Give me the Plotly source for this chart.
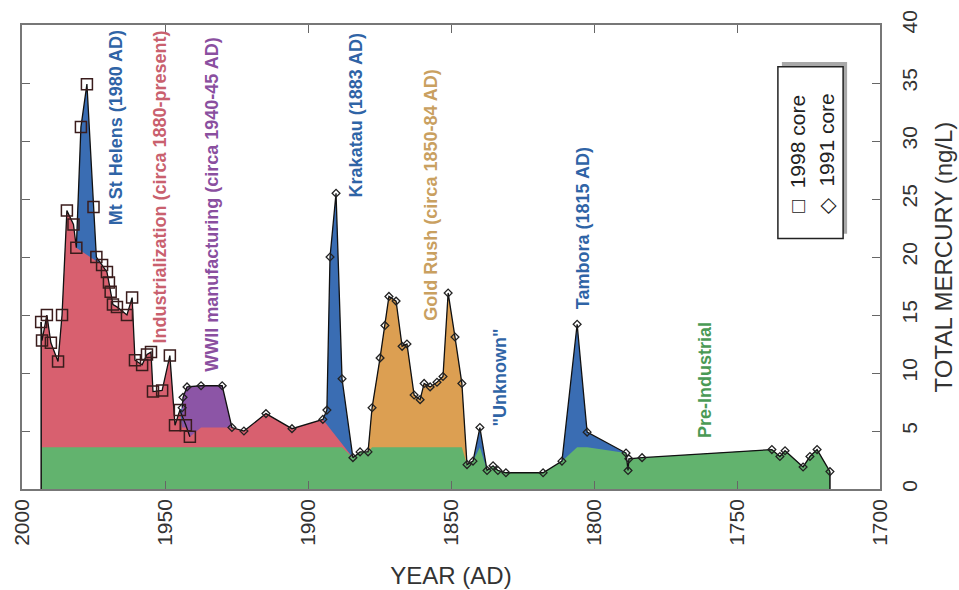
import numpy as np
import plotly.graph_objects as go

# ---------------- data ----------------
core1998_year = [1993.3, 1993.0, 1991.3, 1989.9, 1987.4, 1986.0, 1984.3, 1982.0, 1981.0,
                 1979.4, 1977.3, 1975.0, 1974.0, 1972.0, 1970.3, 1969.6, 1969.0, 1968.2,
                 1966.8, 1963.3, 1961.5, 1960.5, 1958.0, 1956.3, 1954.9, 1954.2, 1951.0,
                 1948.3, 1946.5, 1944.8, 1942.7, 1941.3]
core1998_hg = [14.4, 12.8, 15.0, 12.6, 11.0, 15.0, 24.0, 22.8, 20.8,
               31.2, 34.9, 24.3, 20.0, 19.3, 18.7, 17.8, 17.0, 15.9,
               15.7, 15.0, 16.5, 11.1, 10.7, 11.6, 11.8, 8.4, 8.5,
               11.5, 5.5, 6.8, 5.5, 4.5]

core1991_year = [1944.0, 1943.7, 1942.3, 1937.4, 1930.0, 1926.6, 1922.4, 1914.7, 1905.6,
                 1894.8, 1893.4, 1892.3, 1890.2, 1888.1, 1884.3, 1881.8, 1879.0, 1877.6,
                 1874.8, 1873.1, 1871.7, 1869.2, 1867.1, 1865.4, 1862.9, 1860.8, 1859.4,
                 1857.3, 1854.9, 1852.8, 1851.0, 1848.6, 1846.2, 1844.4, 1842.3, 1839.9,
                 1837.4, 1835.3, 1833.6, 1830.8, 1817.8, 1811.2, 1805.9, 1802.4, 1788.8,
                 1788.1, 1787.8, 1783.2, 1737.8, 1735.0, 1733.2, 1726.9, 1724.5, 1722.0,
                 1717.5]
core1991_hg = [7.0, 7.9, 8.8, 8.9, 8.9, 5.3, 5.0, 6.5, 5.2,
               6.0, 6.8, 20.0, 25.5, 9.5, 2.7, 3.2, 3.2, 7.0,
               11.3, 14.1, 16.6, 16.2, 12.3, 12.5, 8.1, 7.7, 9.1,
               8.8, 9.2, 9.7, 16.9, 13.1, 9.1, 2.1, 2.4, 5.3,
               1.6, 2.0, 1.6, 1.4, 1.4, 2.4, 14.2, 4.9, 3.1,
               1.6, 2.6, 2.7, 3.4, 2.8, 3.3, 1.9, 2.8, 3.4,
               1.5]

x_ticks = [2000, 1950, 1900, 1850, 1800, 1750, 1700]
y_ticks = [0, 5, 10, 15, 20, 25, 30, 35, 40]

# region definitions (levels / year spans)
BASELINE = 3.6          # pre-industrial background level
WWII_BASE = 5.3         # level under the WWII band
STHELENS_SPAN = (1973.5, 1980.0)
KRAKATAU_SPAN = (1886.0, 1894.0)
WWII_SPAN = (1926.0, 1944.2)
GOLD_SPAN = (1842.0, 1882.0)
INDUSTRIAL_END = 1884.0

C_GREEN = "#62b36e"
C_RED = "#d8606f"
C_BLUE = "#3a6db3"
C_PURPLE = "#8c55a6"
C_ORANGE = "#dc9f52"

# ---------------- derived curves ----------------
yr = np.array(core1998_year + core1991_year)
hg = np.array(core1998_hg + core1991_hg)
order = np.argsort(-yr)
yr, hg = yr[order], hg[order]

in_span = lambda a, s: (a > s[0]) & (a < s[1])

# industrial envelope (exclude volcanic spikes, clip WWII band)
red_mask = (yr >= INDUSTRIAL_END) & ~in_span(yr, STHELENS_SPAN) & ~in_span(yr, KRAKATAU_SPAN)
red_x = yr[red_mask]
red_y = hg[red_mask].copy()
ww = (red_x >= WWII_SPAN[0]) & (red_x <= WWII_SPAN[1])
red_y[ww] = np.minimum(red_y[ww], WWII_BASE)

y91 = np.array(core1991_year)
h91 = np.array(core1991_hg)
pm = (y91 >= WWII_SPAN[0]) & (y91 <= WWII_SPAN[1])

gm = (yr >= GOLD_SPAN[0]) & (yr <= GOLD_SPAN[1])

fig = go.Figure()
def area(x, y, color):
    fig.add_trace(go.Scatter(x=x, y=y, mode="lines", fill="tozeroy",
                             fillcolor=color, line=dict(width=0, color=color),
                             hoverinfo="skip", showlegend=False))

area(yr, hg, C_BLUE)
area(y91[pm], h91[pm], C_PURPLE)
area(yr[gm], hg[gm], C_ORANGE)
area(red_x, red_y, C_RED)
area(yr, np.minimum(hg, BASELINE), C_GREEN)

# vertical edges at both ends of the record
for i in (0, -1):
    fig.add_trace(go.Scatter(x=[yr[i], yr[i]], y=[0, hg[i]], mode="lines",
                             line=dict(color="#111", width=1.5),
                             hoverinfo="skip", showlegend=False))

fig.add_trace(go.Scatter(x=core1998_year, y=core1998_hg, mode="lines+markers", name="1998 core",
                         line=dict(color="#111", width=1.3),
                         marker=dict(symbol="square-open", size=11, color="#3a1c1c",
                                     line=dict(width=1.5)), showlegend=False))
fig.add_trace(go.Scatter(x=core1991_year, y=core1991_hg, mode="lines+markers", name="1991 core",
                         line=dict(color="#111", width=1.3),
                         marker=dict(symbol="diamond-open", size=6, color="#222",
                                     line=dict(width=1.3)), showlegend=False))

FONT = "Liberation Sans, Arial, sans-serif"
labels = [
    ("Mt St Helens (1980 AD)", 1967.1, 31.1, "#2f64a6"),
    ("Industrialization (circa 1880-present)", 1951.7, 26.0, "#c9606e"),
    ("WWII manufacturing (circa 1940-45 AD)", 1933.6, 24.5, "#8a4f9f"),
    ("Krakatau (1883 AD)", 1882.9, 32.2, "#2f64a6"),
    ("Gold Rush (circa 1850-84 AD)", 1857.3, 25.3, "#c9a060"),
    ("\"Unknown\"", 1832.9, 9.6, "#2f64a6"),
    ("Tambora (1815 AD)", 1803.8, 22.5, "#2f64a6"),
    ("Pre-Industrial", 1761.2, 9.4, "#4a9a55"),
]
for t, x, y, c in labels:
    fig.add_annotation(x=x, y=y, xref="x", yref="y", text="<b>" + t + "</b>", textangle=-90,
                       showarrow=False, font=dict(family=FONT, size=18, color=c))

# legend (rotated, drawn by hand)
fig.add_shape(type="rect", x0=1734.3, x1=1711.5, y0=22.0, y1=36.8, xref="x", yref="y",
              line=dict(width=0), fillcolor="#a8a8a8", layer="above")
fig.add_shape(type="rect", x0=1735.7, x1=1712.9, y0=21.6, y1=36.4, xref="x", yref="y",
              line=dict(width=1.5, color="#222"), fillcolor="white", layer="above")
fig.add_annotation(x=1728.7, y=28.9, xref="x", yref="y", text="\u25a1  1998 core", textangle=-90,
                   showarrow=False, font=dict(family=FONT, size=21, color="#222"))
fig.add_annotation(x=1718.7, y=28.9, xref="x", yref="y", text="\u25c7  1991 core", textangle=-90,
                   showarrow=False, font=dict(family=FONT, size=21, color="#222"))

fig.update_layout(
    width=959, height=590,
    margin=dict(l=22, r=79, t=25, b=101),
    paper_bgcolor="white", plot_bgcolor="white",
    font=dict(family=FONT, color="#333"),
    showlegend=False,
    xaxis=dict(range=[2000, 1700], tickvals=x_ticks, tickangle=-90, ticks="inside",
               ticklen=8, tickcolor="#666", showline=True, linecolor="#777", linewidth=1.5,
               mirror="ticks", showgrid=False, zeroline=False, automargin=False,
               tickfont=dict(size=21, color="#333"),
               title=dict(text="YEAR (AD)", font=dict(size=24, color="#333"), standoff=22)),
    yaxis=dict(range=[0, 40], tickvals=y_ticks, side="right", tickangle=-90, ticks="inside",
               ticklen=8, tickcolor="#666", showline=True, linecolor="#777", linewidth=1.5,
               mirror="ticks", showgrid=False, zeroline=False, automargin=False,
               tickfont=dict(size=21, color="#333"), ticklabelstandoff=10,
               title=dict(text="TOTAL MERCURY (ng/L)", font=dict(size=24, color="#333"))),
)

fig.write_html("out.html", config={"displayModeBar": False},
               post_script="document.body.style.margin='0px';")
